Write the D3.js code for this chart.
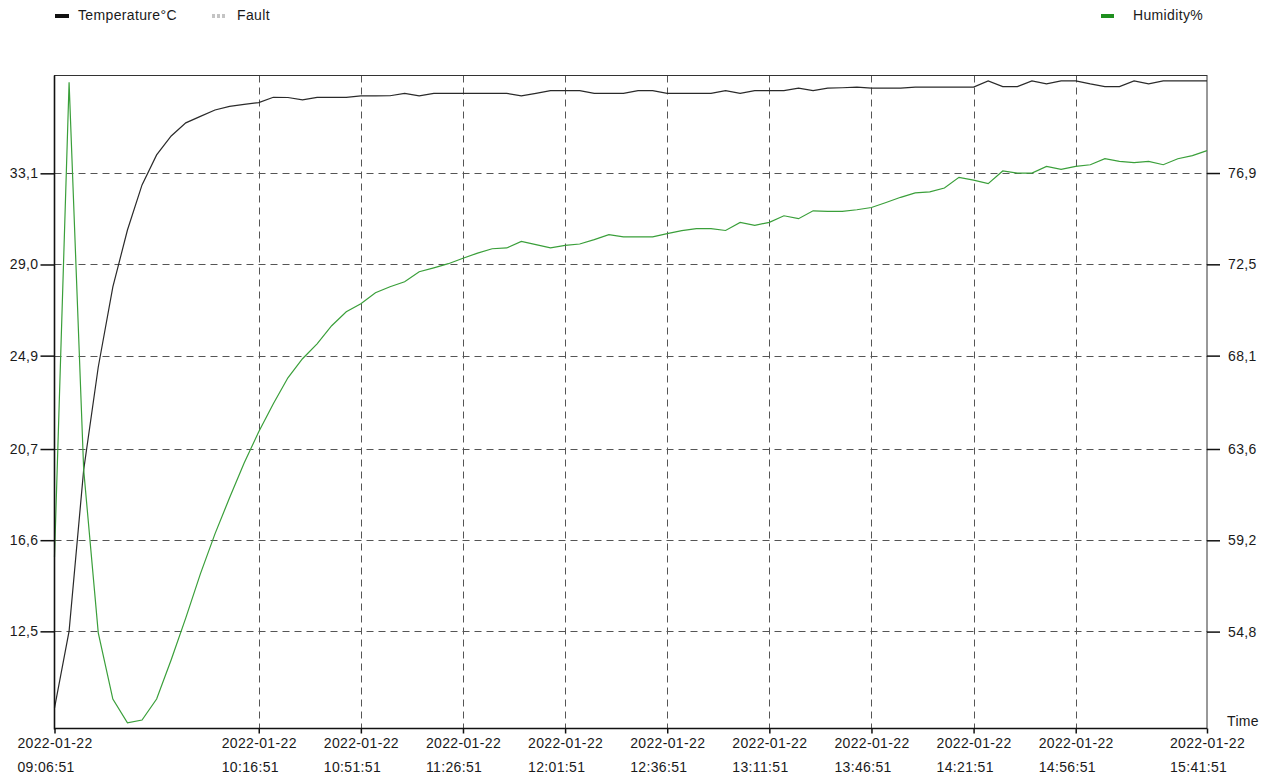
<!doctype html>
<html>
  <head>
    <meta charset="utf-8">
    <title>Temperature and humidity log</title>
    <style>
    body {
      margin: 0;
      background-color: #ffffff;
    }
    svg text {
      font-family: 'Liberation Sans', Arial, sans-serif;
      font-size: 14px;
      letter-spacing: 0.35px;
      fill: #1a1a1a;
    }
    </style>
    <script src="https://cdnjs.cloudflare.com/ajax/libs/d3/7.8.5/d3.min.js"></script>
  </head>
  <body>
    <div id="chart"></div>

    <script>

      // sample times (every 5 minutes), all on 2022-01-22
      const day = '2022-01-22';
      const times = [
        '09:06:51','09:11:51','09:16:51','09:21:51','09:26:51','09:31:51','09:36:51','09:41:51','09:46:51','09:51:51',
        '09:56:51','10:01:51','10:06:51','10:11:51','10:16:51','10:21:51','10:26:51','10:31:51','10:36:51','10:41:51',
        '10:46:51','10:51:51','10:56:51','11:01:51','11:06:51','11:11:51','11:16:51','11:21:51','11:26:51','11:31:51',
        '11:36:51','11:41:51','11:46:51','11:51:51','11:56:51','12:01:51','12:06:51','12:11:51','12:16:51','12:21:51',
        '12:26:51','12:31:51','12:36:51','12:41:51','12:46:51','12:51:51','12:56:51','13:01:51','13:06:51','13:11:51',
        '13:16:51','13:21:51','13:26:51','13:31:51','13:36:51','13:41:51','13:46:51','13:51:51','13:56:51','14:01:51',
        '14:06:51','14:11:51','14:16:51','14:21:51','14:26:51','14:31:51','14:36:51','14:41:51','14:46:51','14:51:51',
        '14:56:51','15:01:51','15:06:51','15:11:51','15:16:51','15:21:51','15:26:51','15:31:51','15:36:51','15:41:51'
      ];

      // Temperature °C (left axis)
      const temperature = [
        9.05, 12.51, 19.76, 24.39, 27.99, 30.55, 32.58, 33.93, 34.78, 35.37,
        35.66, 35.95, 36.11, 36.20, 36.28, 36.52, 36.51, 36.40, 36.52, 36.52,
        36.52, 36.58, 36.58, 36.59, 36.70, 36.58, 36.70, 36.70, 36.70, 36.70,
        36.70, 36.70, 36.58, 36.70, 36.82, 36.82, 36.82, 36.70, 36.70, 36.70,
        36.82, 36.82, 36.70, 36.70, 36.70, 36.70, 36.82, 36.70, 36.82, 36.82,
        36.82, 36.93, 36.82, 36.93, 36.95, 36.98, 36.93, 36.93, 36.93, 36.98,
        36.98, 36.98, 36.98, 36.98, 37.26, 37.00, 37.00, 37.26, 37.12, 37.26,
        37.26, 37.12, 37.00, 37.00, 37.26, 37.12, 37.26, 37.26, 37.26, 37.26
      ];

      // Humidity % (right axis)
      const humidity = [
        58.40, 81.27, 62.60, 54.74, 51.55, 50.40, 50.54, 51.55, 53.44, 55.46,
        57.58, 59.51, 61.25, 62.93, 64.43, 65.78, 67.03, 67.95, 68.67, 69.54,
        70.21, 70.60, 71.13, 71.42, 71.66, 72.14, 72.33, 72.53, 72.79, 73.04,
        73.25, 73.29, 73.60, 73.45, 73.29, 73.41, 73.48, 73.69, 73.93, 73.82,
        73.82, 73.82, 73.98, 74.12, 74.22, 74.22, 74.13, 74.52, 74.38, 74.52,
        74.84, 74.70, 75.08, 75.05, 75.05, 75.13, 75.24, 75.48, 75.73, 75.94,
        75.99, 76.18, 76.69, 76.56, 76.39, 77.00, 76.90, 76.90, 77.22, 77.08,
        77.22, 77.30, 77.59, 77.46, 77.40, 77.46, 77.30, 77.59, 77.74, 77.98
      ];

      // tick labels
      const xTickTimes = ['09:06:51','10:16:51','10:51:51','11:26:51','12:01:51','12:36:51',
                          '13:11:51','13:46:51','14:21:51','14:56:51','15:41:51'];
      const leftTicks = [12.5, 16.6, 20.7, 24.9, 29.0, 33.1];
      const rightTicks = [54.8, 59.2, 63.6, 68.1, 72.5, 76.9];

      const parse = d3.timeParse('%Y-%m-%d %H:%M:%S');
      const toDate = t => parse(day + ' ' + t);
      const fmt = v => d3.format('.1f')(v).replace('.', ',');

      // plot box
      const boxL = 54.5, boxR = 1207, boxT = 75.5, boxB = 728.5;

      const x = d3.scaleTime()
        .domain([toDate(times[0]), toDate(times[times.length - 1])])
        .range([boxL, boxR]);
      const yL = d3.scaleLinear().domain([8.13, 37.5]).range([boxB, boxT]);
      const yR = d3.scaleLinear().domain([50.13, 81.6]).range([boxB, boxT]);

      const svg = d3.select('#chart')
        .append('svg')
        .attr('width', 1270)
        .attr('height', 776);

      // grid
      const grid = svg.append('g')
        .attr('stroke', '#555')
        .attr('stroke-width', 1)
        .attr('stroke-dasharray', '7,5')
        .attr('fill', 'none');

      grid.selectAll('line.h')
        .data(leftTicks)
        .join('line')
        .attr('class', 'h')
        .attr('x1', boxL).attr('x2', boxR)
        .attr('y1', d => Math.round(yL(d)) + 0.5)
        .attr('y2', d => Math.round(yL(d)) + 0.5);

      grid.selectAll('line.v')
        .data(xTickTimes.slice(1, -1))
        .join('line')
        .attr('class', 'v')
        .attr('y1', boxT).attr('y2', boxB)
        .attr('x1', d => Math.round(x(toDate(d))) + 0.5)
        .attr('x2', d => Math.round(x(toDate(d))) + 0.5);

      // frame
      svg.append('rect')
        .attr('x', boxL).attr('y', boxT)
        .attr('width', boxR - boxL).attr('height', boxB - boxT)
        .attr('fill', 'none')
        .attr('stroke', '#333')
        .attr('stroke-width', 1);

      // series
      const lineT = d3.line()
        .x((d, i) => x(toDate(times[i])))
        .y(d => yL(d));
      const lineH = d3.line()
        .x((d, i) => x(toDate(times[i])))
        .y(d => yR(d));

      svg.append('path')
        .datum(temperature)
        .attr('d', lineT)
        .attr('fill', 'none')
        .attr('stroke', '#2a2a2a')
        .attr('stroke-width', 1.2);

      svg.append('path')
        .datum(humidity)
        .attr('d', lineH)
        .attr('fill', 'none')
        .attr('stroke', '#3a9f3a')
        .attr('stroke-width', 1.2);

      // axes
      const axL = svg.append('g')
        .attr('transform', `translate(${boxL},0)`)
        .call(d3.axisLeft(yL).tickValues(leftTicks).tickSize(14).tickPadding(2).tickFormat(fmt));
      const axR = svg.append('g')
        .attr('transform', `translate(${boxR},0)`)
        .call(d3.axisRight(yR).tickValues(rightTicks).tickSize(13).tickPadding(8).tickFormat(fmt));
      const axB = svg.append('g')
        .attr('transform', `translate(0,${boxB})`)
        .call(d3.axisBottom(x).tickValues(xTickTimes.map(toDate)).tickSize(5).tickFormat(''));

      [axL, axR, axB].forEach(a => {
        a.select('.domain').remove();
        a.selectAll('.tick line').attr('stroke', '#111').attr('stroke-width', 1.5);
        a.selectAll('.tick text').attr('font-size', null).attr('font-family', null).attr('fill', null);
      });

      // left and bottom axis lines
      svg.append('line')
        .attr('x1', boxL).attr('x2', boxL).attr('y1', boxT).attr('y2', boxB + 1)
        .attr('stroke', '#111').attr('stroke-width', 1.6);
      svg.append('line')
        .attr('x1', boxL).attr('x2', boxR).attr('y1', boxB).attr('y2', boxB)
        .attr('stroke', '#111').attr('stroke-width', 1.6);

      // two-line time labels, centred on the tick, lines left-aligned
      axB.selectAll('.tick').each(function(d, i) {
        const g = d3.select(this);
        const t1 = g.append('text')
          .attr('text-anchor', 'start')
          .attr('y', 19)
          .text(day);
        const w = t1.node().getComputedTextLength();
        t1.attr('x', -w / 2);
        g.append('text')
          .attr('text-anchor', 'start')
          .attr('x', -w / 2)
          .attr('y', 43)
          .text(xTickTimes[i]);
      });

      svg.append('text')
        .attr('x', 1227)
        .attr('y', 726)
        .text('Time');

      // legend
      const legend = svg.append('g');
      legend.append('line')
        .attr('x1', 55).attr('x2', 69).attr('y1', 16).attr('y2', 16)
        .attr('stroke', '#111').attr('stroke-width', 4);
      legend.append('text').attr('x', 78).attr('y', 20).text('Temperature°C');

      legend.append('line')
        .attr('x1', 212).attr('x2', 227).attr('y1', 16).attr('y2', 16)
        .attr('stroke', '#c4c4c4').attr('stroke-width', 4)
        .attr('stroke-dasharray', '3,2');
      legend.append('text').attr('x', 237).attr('y', 20).text('Fault');

      legend.append('line')
        .attr('x1', 1101).attr('x2', 1114).attr('y1', 16).attr('y2', 16)
        .attr('stroke', '#1f8f1f').attr('stroke-width', 4);
      legend.append('text').attr('x', 1133).attr('y', 20).text('Humidity%');

    </script>
  </body>
</html>
